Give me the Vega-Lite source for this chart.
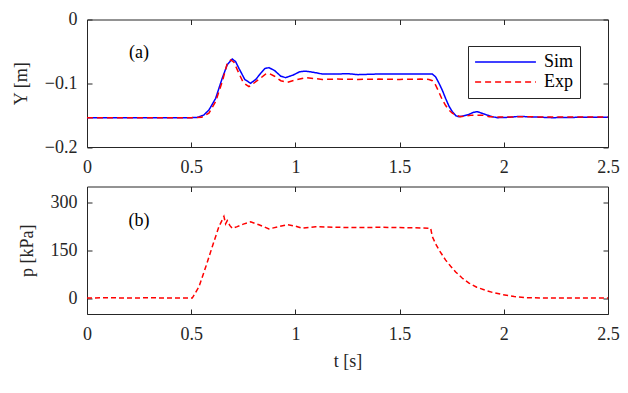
{
  "$schema": "https://vega.github.io/schema/vega-lite/v6.json",
  "background": "white",
  "padding": {"left": 12, "top": 10.5, "right": 5, "bottom": 5},
  "bounds": "flush",
  "spacing": 39,
  "config": {
    "font": "Liberation Serif",
    "view": {"stroke": null},
    "axis": {"grid": false, "domainColor": "#262626", "tickColor": "#262626", "labelColor": "#262626", "titleColor": "#262626", "labelFont": "Liberation Serif", "titleFont": "Liberation Serif", "labelFontSize": 18, "titleFontSize": 18, "titleFontWeight": "normal", "tickSize": -5, "labelPadding": 15, "domainWidth": 1, "tickWidth": 1}
  },
  "datasets": {
    "yd": [
      {"t": 0, "Y": -0.154, "series": "Sim"}, {"t": 0.5, "Y": -0.154, "series": "Sim"}, {"t": 0.53, "Y": -0.1535, "series": "Sim"}, {"t": 0.56, "Y": -0.15, "series": "Sim"}, {"t": 0.585, "Y": -0.142, "series": "Sim"}, {"t": 0.617, "Y": -0.124, "series": "Sim"}, {"t": 0.649, "Y": -0.092, "series": "Sim"}, {"t": 0.673, "Y": -0.071, "series": "Sim"}, {"t": 0.697, "Y": -0.062, "series": "Sim"}, {"t": 0.713, "Y": -0.066, "series": "Sim"}, {"t": 0.729, "Y": -0.0766, "series": "Sim"}, {"t": 0.757, "Y": -0.094, "series": "Sim"}, {"t": 0.785, "Y": -0.1, "series": "Sim"}, {"t": 0.81, "Y": -0.094, "series": "Sim"}, {"t": 0.833, "Y": -0.0845, "series": "Sim"}, {"t": 0.853, "Y": -0.077, "series": "Sim"}, {"t": 0.873, "Y": -0.0755, "series": "Sim"}, {"t": 0.9, "Y": -0.08, "series": "Sim"}, {"t": 0.93, "Y": -0.089, "series": "Sim"}, {"t": 0.953, "Y": -0.0912, "series": "Sim"}, {"t": 0.99, "Y": -0.087, "series": "Sim"}, {"t": 1.02, "Y": -0.082, "series": "Sim"}, {"t": 1.049, "Y": -0.081, "series": "Sim"}, {"t": 1.09, "Y": -0.083, "series": "Sim"}, {"t": 1.129, "Y": -0.0855, "series": "Sim"}, {"t": 1.2, "Y": -0.0855, "series": "Sim"}, {"t": 1.25, "Y": -0.085, "series": "Sim"}, {"t": 1.3, "Y": -0.0865, "series": "Sim"}, {"t": 1.4, "Y": -0.0855, "series": "Sim"}, {"t": 1.5, "Y": -0.0855, "series": "Sim"}, {"t": 1.6, "Y": -0.0855, "series": "Sim"}, {"t": 1.657, "Y": -0.0855, "series": "Sim"}, {"t": 1.673, "Y": -0.09, "series": "Sim"}, {"t": 1.689, "Y": -0.1, "series": "Sim"}, {"t": 1.705, "Y": -0.111, "series": "Sim"}, {"t": 1.721, "Y": -0.124, "series": "Sim"}, {"t": 1.737, "Y": -0.136, "series": "Sim"}, {"t": 1.753, "Y": -0.1446, "series": "Sim"}, {"t": 1.77, "Y": -0.151, "series": "Sim"}, {"t": 1.785, "Y": -0.1525, "series": "Sim"}, {"t": 1.81, "Y": -0.151, "series": "Sim"}, {"t": 1.833, "Y": -0.1488, "series": "Sim"}, {"t": 1.855, "Y": -0.1455, "series": "Sim"}, {"t": 1.873, "Y": -0.1446, "series": "Sim"}, {"t": 1.895, "Y": -0.147, "series": "Sim"}, {"t": 1.921, "Y": -0.15, "series": "Sim"}, {"t": 1.945, "Y": -0.1525, "series": "Sim"}, {"t": 1.969, "Y": -0.154, "series": "Sim"}, {"t": 2.02, "Y": -0.1535, "series": "Sim"}, {"t": 2.073, "Y": -0.152, "series": "Sim"}, {"t": 2.15, "Y": -0.153, "series": "Sim"}, {"t": 2.233, "Y": -0.154, "series": "Sim"}, {"t": 2.35, "Y": -0.1535, "series": "Sim"}, {"t": 2.5, "Y": -0.1535, "series": "Sim"},
      {"t": 0, "Y": -0.154, "series": "Exp"}, {"t": 0.5, "Y": -0.154, "series": "Exp"}, {"t": 0.55, "Y": -0.1535, "series": "Exp"}, {"t": 0.585, "Y": -0.147, "series": "Exp"}, {"t": 0.617, "Y": -0.129, "series": "Exp"}, {"t": 0.649, "Y": -0.0975, "series": "Exp"}, {"t": 0.673, "Y": -0.0688, "series": "Exp"}, {"t": 0.69, "Y": -0.0635, "series": "Exp"}, {"t": 0.705, "Y": -0.067, "series": "Exp"}, {"t": 0.729, "Y": -0.0845, "series": "Exp"}, {"t": 0.75, "Y": -0.099, "series": "Exp"}, {"t": 0.777, "Y": -0.1054, "series": "Exp"}, {"t": 0.8, "Y": -0.1, "series": "Exp"}, {"t": 0.833, "Y": -0.092, "series": "Exp"}, {"t": 0.855, "Y": -0.086, "series": "Exp"}, {"t": 0.873, "Y": -0.0845, "series": "Exp"}, {"t": 0.9, "Y": -0.089, "series": "Exp"}, {"t": 0.93, "Y": -0.096, "series": "Exp"}, {"t": 0.96, "Y": -0.0986, "series": "Exp"}, {"t": 1.0, "Y": -0.095, "series": "Exp"}, {"t": 1.049, "Y": -0.0912, "series": "Exp"}, {"t": 1.129, "Y": -0.094, "series": "Exp"}, {"t": 1.2, "Y": -0.0935, "series": "Exp"}, {"t": 1.3, "Y": -0.094, "series": "Exp"}, {"t": 1.4, "Y": -0.0935, "series": "Exp"}, {"t": 1.5, "Y": -0.094, "series": "Exp"}, {"t": 1.6, "Y": -0.0935, "series": "Exp"}, {"t": 1.641, "Y": -0.094, "series": "Exp"}, {"t": 1.657, "Y": -0.096, "series": "Exp"}, {"t": 1.673, "Y": -0.103, "series": "Exp"}, {"t": 1.689, "Y": -0.114, "series": "Exp"}, {"t": 1.705, "Y": -0.126, "series": "Exp"}, {"t": 1.721, "Y": -0.135, "series": "Exp"}, {"t": 1.737, "Y": -0.142, "series": "Exp"}, {"t": 1.753, "Y": -0.147, "series": "Exp"}, {"t": 1.769, "Y": -0.1497, "series": "Exp"}, {"t": 1.793, "Y": -0.1525, "series": "Exp"}, {"t": 1.82, "Y": -0.151, "series": "Exp"}, {"t": 1.849, "Y": -0.15, "series": "Exp"}, {"t": 1.897, "Y": -0.15, "series": "Exp"}, {"t": 1.93, "Y": -0.1525, "series": "Exp"}, {"t": 2.0, "Y": -0.153, "series": "Exp"}, {"t": 2.1, "Y": -0.1525, "series": "Exp"}, {"t": 2.2, "Y": -0.153, "series": "Exp"}, {"t": 2.5, "Y": -0.153, "series": "Exp"}
    ],
    "pd": [
      {"t": 0, "p": 0}, {"t": 0.1, "p": 1}, {"t": 0.2, "p": 0}, {"t": 0.3, "p": 1}, {"t": 0.4, "p": 0}, {"t": 0.505, "p": 0}, {"t": 0.537, "p": 35}, {"t": 0.57, "p": 98}, {"t": 0.601, "p": 161}, {"t": 0.633, "p": 224}, {"t": 0.645, "p": 240}, {"t": 0.657, "p": 256}, {"t": 0.665, "p": 233}, {"t": 0.673, "p": 243}, {"t": 0.685, "p": 228}, {"t": 0.697, "p": 219}, {"t": 0.721, "p": 224}, {"t": 0.75, "p": 232}, {"t": 0.785, "p": 239}, {"t": 0.825, "p": 230}, {"t": 0.873, "p": 217}, {"t": 0.92, "p": 224}, {"t": 0.961, "p": 230}, {"t": 1.0, "p": 226}, {"t": 1.033, "p": 219}, {"t": 1.097, "p": 224}, {"t": 1.2, "p": 222}, {"t": 1.3, "p": 221}, {"t": 1.4, "p": 222}, {"t": 1.5, "p": 221}, {"t": 1.6, "p": 220}, {"t": 1.649, "p": 219}, {"t": 1.657, "p": 193}, {"t": 1.673, "p": 170}, {"t": 1.689, "p": 151}, {"t": 1.705, "p": 135}, {"t": 1.721, "p": 119}, {"t": 1.745, "p": 100}, {"t": 1.769, "p": 82}, {"t": 1.8, "p": 63}, {"t": 1.833, "p": 47}, {"t": 1.87, "p": 34}, {"t": 1.913, "p": 24}, {"t": 1.95, "p": 17}, {"t": 1.993, "p": 11}, {"t": 2.05, "p": 5}, {"t": 2.105, "p": 1}, {"t": 2.217, "p": 0}, {"t": 2.35, "p": 0}, {"t": 2.5, "p": 0}
    ],
    "la": [{"t": 0.25, "Y": -0.0525, "label": "(a)"}],
    "lb": [{"t": 0.25, "p": 242, "label": "(b)"}]
  },
  "vconcat": [
    {
      "width": 521,
      "height": 127.5,
      "layer": [
        {
          "data": {"name": "yd"},
          "mark": {"type": "line", "strokeWidth": 1.5},
          "encoding": {
            "x": {"field": "t", "type": "quantitative", "scale": {"domain": [0, 2.5], "nice": false}, "axis": {"values": [0, 0.5, 1, 1.5, 2, 2.5], "title": null, "labelFlush": false, "format": "~g", "labelPadding": 16}},
            "y": {"field": "Y", "type": "quantitative", "scale": {"domain": [-0.2, 0], "nice": false}, "axis": {"values": [-0.2, -0.1, 0], "title": "Y [m]", "titleFont": "Liberation Serif", "titlePadding": 14, "format": "~g"}},
            "color": {"field": "series", "type": "nominal", "scale": {"domain": ["Sim", "Exp"], "range": ["#0000ff", "#ff0000"]}, "legend": {"title": null, "orient": "none", "legendX": 381, "legendY": 26.5, "symbolType": "stroke", "symbolSize": 3700, "clipHeight": 20, "symbolStrokeWidth": 1.5, "labelFontSize": 18, "labelFont": "Liberation Serif", "labelColor": "#000000", "fillColor": "white", "strokeColor": "#262626", "padding": 6, "rowPadding": 0, "labelOffset": 7}},
            "strokeDash": {"field": "series", "type": "nominal", "scale": {"domain": ["Sim", "Exp"], "range": [[1, 0], [6, 4]]}, "legend": null},
            "order": {"field": "t", "type": "quantitative"}
          }
        },
        {
          "data": {"name": "yd"},
          "mark": {"type": "point", "opacity": 0},
          "encoding": {
            "x": {"field": "t", "type": "quantitative", "axis": {"orient": "top", "values": [0, 0.5, 1, 1.5, 2, 2.5], "labels": false, "title": null}},
            "y": {"field": "Y", "type": "quantitative", "axis": {"orient": "right", "values": [-0.2, -0.1, 0], "labels": false, "title": null}}
          }
        },
        {
          "data": {"name": "la"},
          "mark": {"type": "text", "fontSize": 18, "font": "Liberation Serif", "color": "#000000"},
          "encoding": {
            "x": {"field": "t", "type": "quantitative", "axis": null},
            "y": {"field": "Y", "type": "quantitative", "axis": null},
            "text": {"field": "label"}
          }
        }
      ],
      "resolve": {"axis": {"x": "independent", "y": "independent"}}
    },
    {
      "width": 521,
      "height": 127.5,
      "layer": [
        {
          "data": {"name": "pd"},
          "mark": {"type": "line", "strokeWidth": 1.5, "color": "#ff0000", "strokeDash": [5, 3]},
          "encoding": {
            "x": {"field": "t", "type": "quantitative", "scale": {"domain": [0, 2.5], "nice": false}, "axis": {"values": [0, 0.5, 1, 1.5, 2, 2.5], "title": "t [s]", "titleFont": "Liberation Serif", "titlePadding": 9, "labelFlush": false, "format": "~g", "labelPadding": 16}},
            "y": {"field": "p", "type": "quantitative", "scale": {"domain": [-50, 350], "nice": false}, "axis": {"values": [0, 150, 300], "title": "p [kPa]", "titleFont": "Liberation Serif", "titlePadding": 14}},
            "order": {"field": "t", "type": "quantitative"}
          }
        },
        {
          "data": {"name": "pd"},
          "mark": {"type": "point", "opacity": 0},
          "encoding": {
            "x": {"field": "t", "type": "quantitative", "axis": {"orient": "top", "values": [0, 0.5, 1, 1.5, 2, 2.5], "labels": false, "title": null}},
            "y": {"field": "p", "type": "quantitative", "axis": {"orient": "right", "values": [0, 150, 300], "labels": false, "title": null}}
          }
        },
        {
          "data": {"name": "lb"},
          "mark": {"type": "text", "fontSize": 18, "font": "Liberation Serif", "color": "#000000"},
          "encoding": {
            "x": {"field": "t", "type": "quantitative", "axis": null},
            "y": {"field": "p", "type": "quantitative", "axis": null},
            "text": {"field": "label"}
          }
        }
      ],
      "resolve": {"axis": {"x": "independent", "y": "independent"}}
    }
  ]
}
